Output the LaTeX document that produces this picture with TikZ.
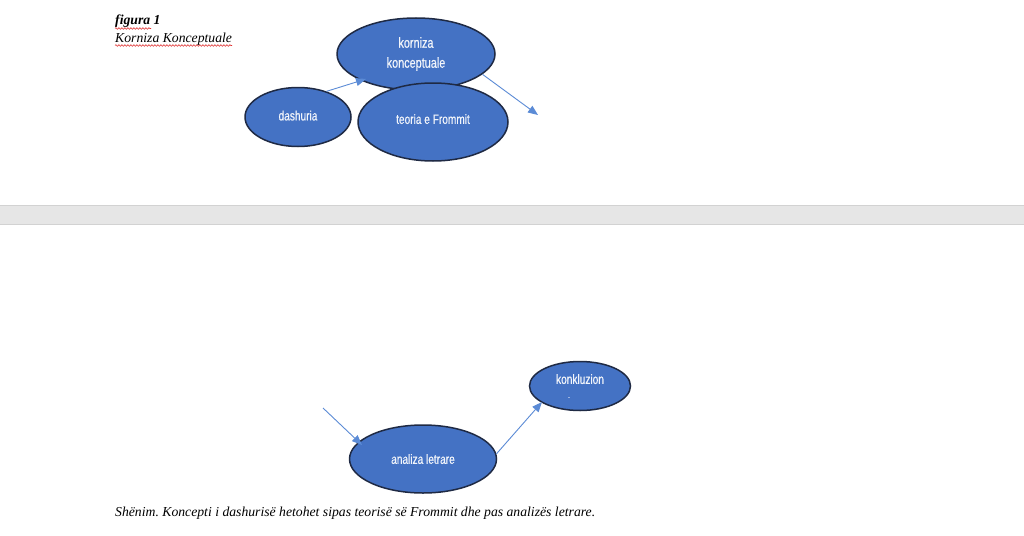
\documentclass[tikz,border=0pt]{standalone}
\usepackage{fontspec}
\setmainfont{Liberation Serif}
\newfontfamily\nodefont[FakeStretch=0.75,FakeBold=0.5]{Liberation Sans}
\usetikzlibrary{shapes.geometric,arrows.meta,decorations.pathmorphing}
\frenchspacing
\definecolor{nodeblue}{HTML}{4472C4}
\definecolor{nodeedge}{HTML}{1F2A44}
\definecolor{arrowblue}{HTML}{5B8BD6}
\definecolor{bandgrey}{HTML}{E6E6E6}
\definecolor{bandedge}{HTML}{D2D2D2}
\definecolor{spellred}{HTML}{E03030}
\definecolor{nodetext}{HTML}{F2F5FB}
\tikzset{
  blob/.style={ellipse, draw=nodeedge, line width=1.5pt, fill=nodeblue, text=nodetext,
    font=\nodefont\fontsize{13.5}{16}\selectfont, align=center, inner sep=0pt},
  link/.style={draw=arrowblue, line width=0.9pt, -{Triangle[length=10pt,width=8pt]}},
  squiggle/.style={draw=spellred, line width=0.6pt, decorate,
    decoration={snake, amplitude=0.8pt, segment length=3pt}},
  doctext/.style={anchor=base west, inner sep=0pt, font=\fontsize{13.7}{16}\selectfont\itshape}
}
\begin{document}
\begin{tikzpicture}[x=1pt,y=-1pt]
\useasboundingbox (0,0) rectangle (1024,535);
\fill[white] (0,0) rectangle (1024,535);
% page gap band
\fill[bandgrey] (0,205) rectangle (1024,225);
\draw[bandedge, line width=0.8pt] (0,205.5) -- (1024,205.5);
\draw[bandedge, line width=0.8pt] (0,224.5) -- (1024,224.5);
% title
\node[doctext, font=\fontsize{13.7}{16}\selectfont\bfseries\itshape] (fig) at (115,25) {figura 1};
\node[doctext] (title) at (115,42) {Korniza Konceptuale};
\draw[squiggle] (115,28.5) -- (151,28.5);
\draw[squiggle] (115,45.5) -- (232,45.5);
% top group
\node[blob, minimum width=158pt, minimum height=72pt, font=\nodefont\fontsize{14.5}{20}\selectfont] (korniza) at (416,54) {korniza\\konceptuale};
\node[blob, minimum width=106pt, minimum height=59pt] (dashuria) at (298,117) {\raisebox{3pt}{dashuria}};
\node[blob, minimum width=150pt, minimum height=78pt] (teoria) at (433,122) {\raisebox{6pt}{teoria e Frommit}};
\coordinate (free1) at (538,115);
\draw[link] (dashuria.42) -- (366,79);
\draw[link] (korniza.-17) -- (free1);
% bottom group
\node[blob, minimum width=101pt, minimum height=49pt] (konkluzion) at (580,386) {\raisebox{3pt}{konkluzion}\\[-5pt]\hspace*{-22pt}{\fontsize{8}{8}\selectfont .}};
\node[blob, minimum width=147pt, minimum height=68pt] (analiza) at (423,459) {analiza letrare};
\coordinate (free2) at (323,408);
\draw[link] (free2) -- (362,445);
\draw[link] (analiza.4) -- (542,402);
% note
\node[doctext] (note) at (115,516) {Shënim. Koncepti i dashurisë hetohet sipas teorisë së Frommit dhe pas analizës letrare.};
\end{tikzpicture}
\end{document}
